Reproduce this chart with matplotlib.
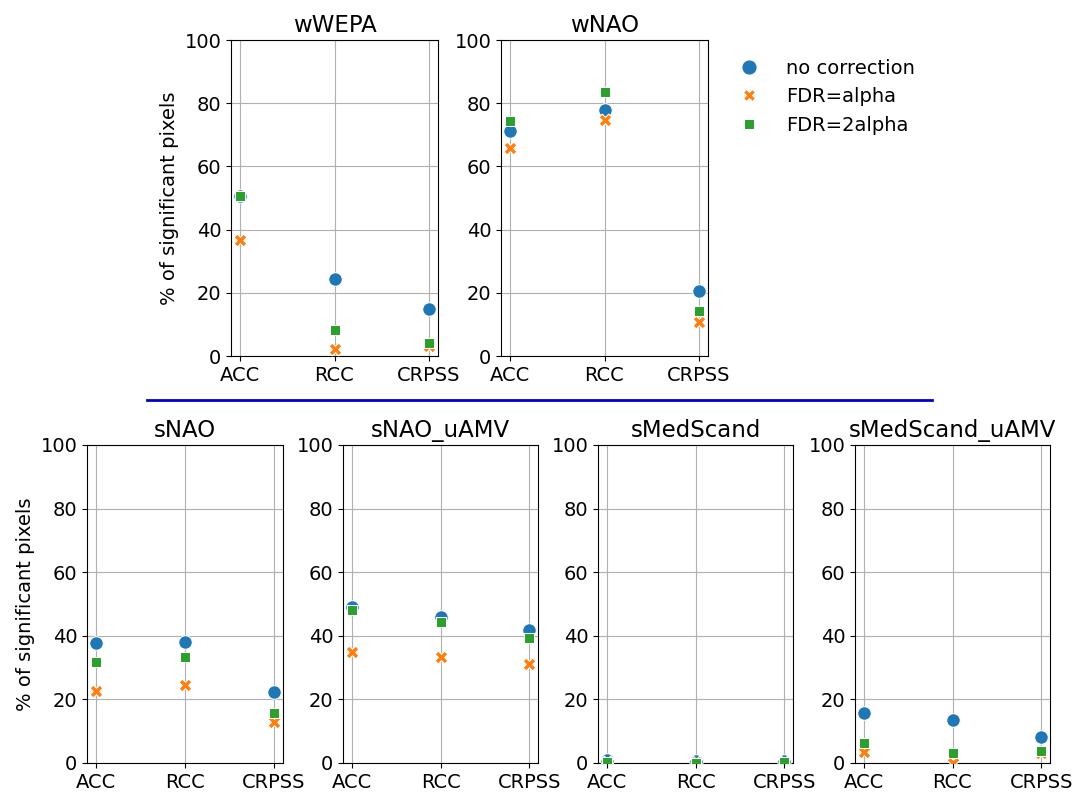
import numpy as np
import matplotlib
matplotlib.use('Agg')
import matplotlib.pyplot as plt
from matplotlib.lines import Line2D

metrics = ['ACC', 'RCC', 'CRPSS']
series = ['no correction', 'FDR=alpha', 'FDR=2alpha']

# % of significant pixels, per index: [no correction, FDR=alpha, FDR=2alpha] x metrics
wWEPA = [[50.7, 24.4, 14.8], [36.6, 2.2, 3.2], [50.5, 8.2, 4.2]]
wNAO = [[71.1, 77.8, 20.5], [65.7, 74.8, 10.7], [74.5, 83.4, 14.2]]
sNAO = [[37.8, 38.2, 22.4], [22.7, 24.4, 13.0], [31.9, 33.4, 15.6]]
sNAO_uAMV = [[49.0, 46.0, 41.8], [34.9, 33.2, 31.0], [48.1, 44.2, 39.2]]
sMedScand = [[1.0, 0.6, 0.6], [0.4, 0.3, 0.3], [0.2, 0.1, 0.2]]
sMedScand_uAMV = [[15.8, 13.6, 8.3], [3.5, 0.0, 3.2], [6.4, 3.0, 3.8]]

colors = ['#1f77b4', '#ff7f0e', '#2ca02c']
markers = ['o', 'X', 's']
sizes = [95, 85, 50]

plt.rcParams['font.size'] = 14

W, H = 1074, 796
fig = plt.figure(figsize=(W / 100, H / 100), dpi=100)


def px_axes(x0, x1, ytop, ybot):
    return fig.add_axes([x0 / W, 1 - ybot / H, (x1 - x0) / W, (ybot - ytop) / H])


def panel(ax, title, data, ylabel=False):
    x = np.arange(len(metrics))
    for vals, c, m, s in zip(data, colors, markers, sizes):
        ax.scatter(x, vals, color=c, marker=m, s=s, edgecolors='white',
                   linewidths=0.75, zorder=3)
    ax.set_xticks(x)
    ax.set_xticklabels(metrics)
    ax.set_ylim(0, 100)
    ax.set_yticks(range(0, 101, 20))
    ax.set_xlim(-0.1, 2.1)
    ax.grid(True, color='#b0b0b0', linewidth=0.8)
    ax.set_axisbelow(True)
    ax.set_title(title, fontsize=16.5)
    if ylabel:
        ax.set_ylabel('% of significant pixels')


panel(px_axes(231, 438, 40, 356), 'wWEPA', wWEPA, ylabel=True)
panel(px_axes(501, 708, 40, 356), 'wNAO', wNAO)

panel(px_axes(87, 283, 445, 763), 'sNAO', sNAO, ylabel=True)
panel(px_axes(343, 538, 445, 763), 'sNAO_uAMV', sNAO_uAMV)
panel(px_axes(598, 793, 445, 763), 'sMedScand', sMedScand)
panel(px_axes(855, 1050, 445, 763), 'sMedScand_uAMV', sMedScand_uAMV)

# separator line between winter and summer panels
fig.add_artist(Line2D([147 / W, 932 / W], [1 - 400 / H, 1 - 400 / H],
                      color='#0000cc', linewidth=2))

handles = [Line2D([], [], linestyle='none', marker=m, color=c, markersize=ms,
                  markeredgecolor='white', markeredgewidth=0.75)
           for m, c, ms in zip(markers, colors, [11, 9, 7])]
fig.legend(handles, series, loc='upper left', bbox_to_anchor=(712 / W, 1 - 41 / H),
           frameon=False, fontsize=14, handletextpad=0.9, labelspacing=0.5)

fig.savefig('out.png', dpi=100)
